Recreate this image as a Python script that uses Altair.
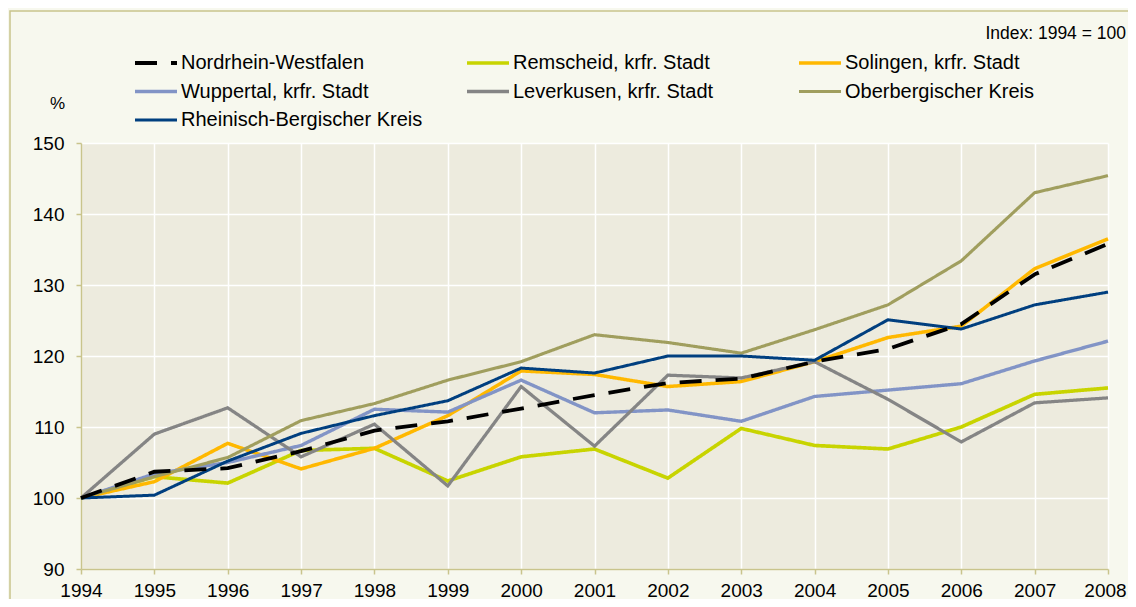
import altair as alt
import pandas as pd

years = list(range(1994, 2009))

series_names = [
    "Nordrhein-Westfalen",
    "Remscheid, krfr. Stadt",
    "Solingen, krfr. Stadt",
    "Wuppertal, krfr. Stadt",
    "Leverkusen, krfr. Stadt",
    "Oberbergischer Kreis",
    "Rheinisch-Bergischer Kreis",
]

nrw = [100, 103.7, 104.2, 106.6, 109.5, 110.8, 112.6, 114.5, 116.2, 116.8, 119.2, 121.0, 124.5, 131.5, 135.8]
remscheid = [100, 103.0, 102.1, 106.7, 107.0, 102.4, 105.8, 106.9, 102.8, 109.8, 107.4, 106.9, 110.0, 114.6, 115.5]
solingen = [100, 102.3, 107.7, 104.1, 107.0, 111.6, 117.9, 117.4, 115.7, 116.4, 119.2, 122.6, 124.2, 132.3, 136.5]
wuppertal = [100, 103.4, 105.0, 107.4, 112.5, 112.1, 116.6, 112.0, 112.4, 110.8, 114.3, 115.2, 116.1, 119.3, 122.1]
leverkusen = [100, 109.0, 112.7, 105.8, 110.4, 101.7, 115.7, 107.3, 117.3, 116.9, 119.2, 113.9, 107.9, 113.4, 114.1]
oberberg = [100, 103.0, 105.7, 110.9, 113.3, 116.6, 119.2, 123.0, 121.9, 120.4, 123.7, 127.2, 133.4, 143.0, 145.4]
rheinberg = [100, 100.4, 105.2, 109.1, 111.6, 113.7, 118.3, 117.6, 120.0, 120.0, 119.4, 125.1, 123.8, 127.2, 129.0]

values = [nrw, remscheid, solingen, wuppertal, leverkusen, oberberg, rheinberg]

colors = ["#000000", "#C8D400", "#FFB800", "#8294C6", "#858585", "#A09E5E", "#003F7F"]
dashes = [[22, 14], [1, 0], [1, 0], [1, 0], [1, 0], [1, 0], [1, 0]]
widths = [3.8, 3, 3, 3, 3, 3, 3]

y_ticks = [90, 100, 110, 120, 130, 140, 150]
index_note = ["Index: 1994 = 100"]

# draw NRW last so it sits on top
draw_order = [1, 2, 3, 4, 5, 6, 0]
rows = []
for i in draw_order:
    for yr, v in zip(years, values[i]):
        rows.append({"Jahr": yr, "Wert": v, "Region": series_names[i]})
df = pd.DataFrame(rows)

FONT = "Liberation Sans"
OLIVE = "#C9C48C"

legend = alt.Legend(title=None)

lines = alt.Chart(df).mark_line().encode(
    x=alt.X(
        "Jahr:Q",
        scale=alt.Scale(domain=[1994, 2008], nice=False, zero=False),
        axis=alt.Axis(values=years, format="d", title=None, labelPadding=7,
                      labelFlush=False, labelOverlap=False,
                      labelOffset={"condition": {"test": "datum.value >= 2008", "value": -3},
                                   "value": 0}),
    ),
    y=alt.Y(
        "Wert:Q",
        scale=alt.Scale(domain=[90, 150], nice=False, zero=False),
        axis=alt.Axis(values=y_ticks, title="%", titleAngle=0, titleX=-24, titleY=-35,
                      titleAlign="center", titleBaseline="alphabetic", titleFontSize=17,
                      titleFontWeight="normal", titleFont=FONT, titleColor="#000000",
                      labelPadding=12, labelFlush=False),
    ),
    color=alt.Color("Region:N", scale=alt.Scale(domain=series_names, range=colors), legend=legend),
    strokeDash=alt.StrokeDash("Region:N", scale=alt.Scale(domain=series_names, range=dashes), legend=legend),
    strokeWidth=alt.StrokeWidth("Region:N", scale=alt.Scale(domain=series_names, range=widths), legend=legend),
)

frame = alt.Chart(pd.DataFrame({"k": [0]})).mark_rect(
    fillOpacity=0, stroke=OLIVE, strokeWidth=1.5
).encode(
    x=alt.value(-71), x2=alt.value(1400), y=alt.value(-132), y2=alt.value(900)
)

note = alt.Chart(pd.DataFrame({"t": index_note})).mark_text(
    align="right", baseline="alphabetic", font=FONT, fontSize=17.5, color="#000000"
).encode(
    text="t:N", x=alt.value(1045), y=alt.value(-104)
)

chart = alt.layer(frame, lines, note).properties(
    width=1027,
    height=426,
    autosize=alt.AutoSizeParams(type="none"),
    padding={"left": 73, "top": 135, "right": 20, "bottom": 30},
    background="#F7F8EE",
).configure_view(
    fill="#EDEBDE", stroke="transparent"
).configure_axis(
    gridColor="#FFFFFF", gridWidth=1.5, domainColor=OLIVE, domainWidth=1.5,
    tickColor=OLIVE, tickSize=5, tickWidth=1.5, labelFont=FONT, labelFontSize=19,
    labelColor="#000000",
).configure_legend(
    orient="none", legendX=52, legendY=-90, columns=3, direction="horizontal",
    symbolType="stroke", symbolSize=1764, symbolStrokeWidth=3, labelFont=FONT,
    labelFontSize=20, labelColor="#000000", labelOffset=2, labelLimit=400,
    rowPadding=8.5, columnPadding=42, gridAlign="all", clipHeight=20, padding=0,
    symbolOffset=0,
)

chart.save("out.html", embed_options={"renderer": "svg", "actions": False})
